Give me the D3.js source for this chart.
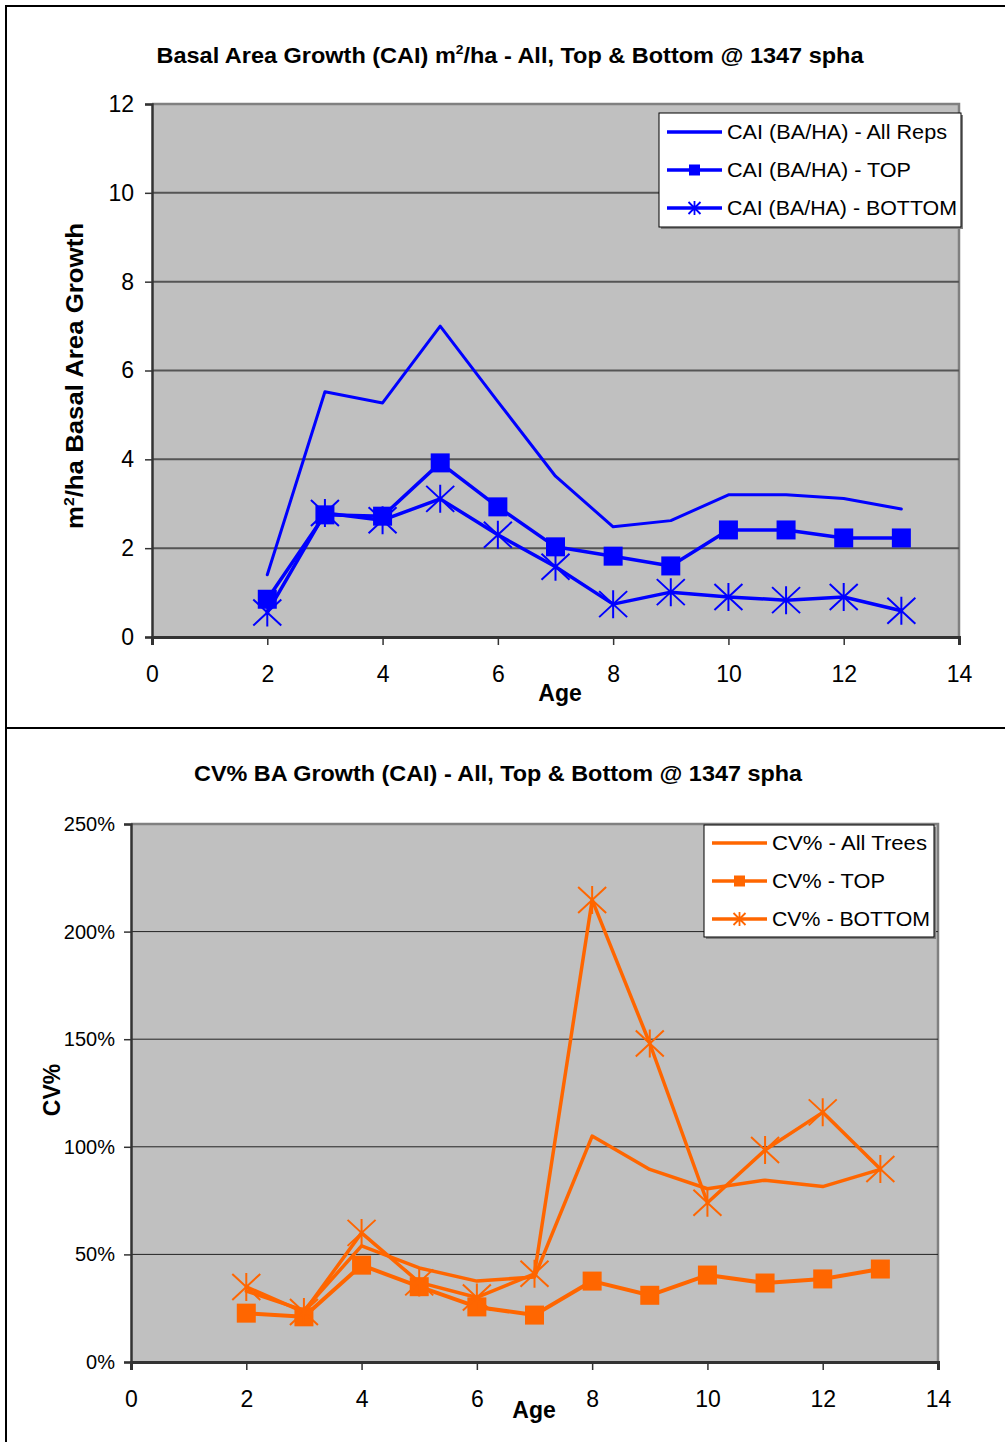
<!DOCTYPE html>
<html>
<head>
<meta charset="utf-8">
<script src="https://cdn.jsdelivr.net/npm/d3@7"></script>
<style>
  html, body { margin: 0; padding: 0; background: #fff; }
  svg { display: block; }
  text { font-family: "Liberation Sans", Arial, sans-serif; }
</style>
</head>
<body>
<svg id="root" width="1005" height="1442"></svg>
<script>
// ---------- DATA ----------
const ages = [2, 3, 4, 5, 6, 7, 8, 9, 10, 11, 12, 13];

// Chart 1: Basal Area Growth (CAI) m2/ha
const caiAllReps = [1.4, 5.52, 5.27, 7.0, 5.3, 3.62, 2.48, 2.62, 3.2, 3.2, 3.12, 2.88];
const caiTop     = [0.85, 2.75, 2.72, 3.92, 2.93, 2.03, 1.82, 1.6, 2.41, 2.41, 2.23, 2.23];
const caiBottom  = [0.55, 2.79, 2.63, 3.11, 2.3, 1.58, 0.74, 1.01, 0.9, 0.83, 0.9, 0.59];

// Chart 2: CV% (fractions)
const cvAllTrees = [0.33, 0.24, 0.54, 0.437, 0.376, 0.395, 1.05, 0.895, 0.805, 0.845, 0.815, 0.895];
const cvTop      = [0.227, 0.21, 0.45, 0.35, 0.256, 0.218, 0.376, 0.31, 0.404, 0.367, 0.386, 0.432];
const cvBottom   = [0.349, 0.232, 0.60, 0.37, 0.30, 0.41, 2.147, 1.48, 0.74, 0.985, 1.16, 0.897];

const xTicks = [0, 2, 4, 6, 8, 10, 12, 14];
const yTicks1 = [0, 2, 4, 6, 8, 10, 12];
const yTicks2 = [0, 0.5, 1.0, 1.5, 2.0, 2.5];

const legend1 = ["CAI (BA/HA) - All Reps", "CAI (BA/HA) - TOP", "CAI (BA/HA) - BOTTOM"];
const legend2 = ["CV% - All Trees", "CV% - TOP", "CV% - BOTTOM"];

// ---------- DRAW ----------
const svg = d3.select("#root");

// outer frame lines
svg.append("line").attr("x1", 6).attr("x2", 1005).attr("y1", 6).attr("y2", 6).attr("stroke", "#000").attr("stroke-width", 2);
svg.append("line").attr("x1", 6).attr("x2", 6).attr("y1", 5).attr("y2", 1442).attr("stroke", "#000").attr("stroke-width", 2);
svg.append("line").attr("x1", 5).attr("x2", 1005).attr("y1", 728).attr("y2", 728).attr("stroke", "#000").attr("stroke-width", 2);

function starPath(rx, ry) {
  return `M${-rx},${-ry}L${rx},${ry}M${-rx},${ry}L${rx},${-ry}M0,${-ry - 1}L0,${ry + 1}`;
}

function drawChart(cfg) {
  const g = svg.append("g");
  const x = d3.scaleLinear().domain([0, 14]).range([cfg.left, cfg.right]);
  const y = d3.scaleLinear().domain([0, cfg.yMax]).range([cfg.bottom, cfg.top]);

  // plot background
  g.append("rect").attr("x", cfg.left).attr("y", cfg.top)
    .attr("width", cfg.right - cfg.left).attr("height", cfg.bottom - cfg.top)
    .attr("fill", "#C0C0C0");
  // gray top & right border
  g.append("path")
    .attr("d", `M${cfg.left},${cfg.top}L${cfg.right},${cfg.top}L${cfg.right},${cfg.bottom}`)
    .attr("fill", "none").attr("stroke", "#808080").attr("stroke-width", 2.5);

  // gridlines
  g.append("g").selectAll("line").data(cfg.yTicks.filter(d => d > 0 && d < cfg.yMax)).join("line")
    .attr("x1", cfg.left).attr("x2", cfg.right)
    .attr("y1", d => y(d)).attr("y2", d => y(d))
    .attr("stroke", cfg.gridColor).attr("stroke-width", cfg.gridWidth);

  // axes
  const yAxis = d3.axisLeft(y).tickValues(cfg.yTicks).tickSize(7).tickPadding(cfg.yPad).tickFormat(cfg.yFormat);
  const ya = g.append("g").attr("transform", `translate(${cfg.left},0)`).call(yAxis);
  ya.select(".domain").attr("stroke", "#333").attr("stroke-width", 2.5);
  ya.selectAll(".tick line").attr("stroke", "#333").attr("stroke-width", 1.5);
  ya.selectAll(".tick text").attr("font-size", cfg.yFont).attr("fill", "#000")
    .attr("font-family", "Liberation Sans, Arial, sans-serif");

  const xAxis = d3.axisBottom(x).tickValues(xTicks).tickSize(8).tickPadding(cfg.xPad).tickFormat(d3.format("d"));
  const xa = g.append("g").attr("transform", `translate(0,${cfg.bottom})`).call(xAxis);
  xa.select(".domain").attr("stroke", "#333").attr("stroke-width", 3);
  xa.selectAll(".tick line").attr("stroke", "#333").attr("stroke-width", 1.5);
  xa.selectAll(".tick text").attr("font-size", 23).attr("fill", "#000")
    .attr("font-family", "Liberation Sans, Arial, sans-serif");

  // title
  g.append("text").attr("x", cfg.titleX).attr("y", cfg.titleY).attr("text-anchor", "middle")
    .attr("font-size", 22).attr("font-weight", "bold")
    .attr("textLength", cfg.titleLen).attr("lengthAdjust", "spacingAndGlyphs")
    .call(cfg.titleFn);

  // axis titles
  g.append("text").attr("x", cfg.ageX).attr("y", cfg.ageY).attr("text-anchor", "middle")
    .attr("font-size", 23).attr("font-weight", "bold").text("Age");
  const yt = g.append("text").attr("transform", `translate(${cfg.yTitleX},${cfg.yTitleY}) rotate(-90)`)
    .attr("text-anchor", "middle").attr("font-size", 23).attr("font-weight", "bold")
    .call(cfg.yTitleFn);
  if (cfg.yTitleLen) yt.attr("textLength", cfg.yTitleLen).attr("lengthAdjust", "spacingAndGlyphs");

  // series
  const line = d3.line().x((d, i) => x(ages[i])).y(d => y(d));
  const series = cfg.series;
  series.forEach((s, k) => {
    const data = s.values;
    g.append("path").datum(data).attr("d", line)
      .attr("fill", "none").attr("stroke", cfg.color).attr("stroke-width", s.width)
      .attr("stroke-linejoin", "round").attr("stroke-linecap", "round");
    if (s.marker === "square") {
      g.append("g").selectAll("rect").data(data).join("rect")
        .attr("x", (d, i) => x(ages[i]) - 9.5).attr("y", d => y(d) - 9.5)
        .attr("width", 19).attr("height", 19).attr("fill", cfg.color);
    } else if (s.marker === "star") {
      g.append("g").selectAll("path").data(data).join("path")
        .attr("transform", (d, i) => `translate(${x(ages[i])},${y(d)})`)
        .attr("d", starPath(14, 13)).attr("fill", "none")
        .attr("stroke", cfg.color).attr("stroke-width", 2);
    }
  });

  // legend
  const L = cfg.legend;
  const lg = g.append("g");
  lg.append("rect").attr("x", L.x + 2).attr("y", L.y + 2).attr("width", L.w).attr("height", L.h).attr("fill", "#808080");
  lg.append("rect").attr("x", L.x).attr("y", L.y).attr("width", L.w).attr("height", L.h)
    .attr("fill", "#fff").attr("stroke", "#000").attr("stroke-width", 1);
  cfg.legendLabels.forEach((lab, k) => {
    const cy = L.y + L.first + k * L.step;
    lg.append("line").attr("x1", L.x + 8).attr("x2", L.x + 63).attr("y1", cy).attr("y2", cy)
      .attr("stroke", cfg.color).attr("stroke-width", 3.5);
    if (series[k].marker === "square") {
      lg.append("rect").attr("x", L.x + 35.5 - 5.5).attr("y", cy - 5.5).attr("width", 11).attr("height", 11).attr("fill", cfg.color);
    } else if (series[k].marker === "star") {
      lg.append("path").attr("transform", `translate(${L.x + 35.5},${cy})`).attr("d", starPath(6, 6))
        .attr("fill", "none").attr("stroke", cfg.color).attr("stroke-width", 1.8);
    }
    lg.append("text").attr("x", L.x + 68).attr("y", cy + 7).attr("font-size", 21)
      .attr("textLength", L.textLens[k]).attr("lengthAdjust", "spacingAndGlyphs").text(lab);
  });
}

drawChart({
  left: 152, right: 959, top: 104, bottom: 637, yMax: 12,
  yTicks: yTicks1, yFormat: d3.format("d"), yFont: 23, yPad: 11, xPad: 21,
  gridColor: "#555", gridWidth: 2,
  color: "#0000FF",
  titleX: 510, titleY: 63, titleLen: 707,
  titleFn: t => { t.append("tspan").text("Basal Area Growth (CAI) m");
                  t.append("tspan").attr("font-size", 13).attr("dy", -9).text("2");
                  t.append("tspan").attr("dy", 9).text("/ha - All, Top & Bottom @ 1347 spha"); },
  ageX: 560, ageY: 701,
  yTitleX: 83, yTitleY: 376, yTitleLen: 306,
  yTitleFn: t => { t.append("tspan").text("m");
                   t.append("tspan").attr("font-size", 14).attr("dy", -9).text("2");
                   t.append("tspan").attr("dy", 9).text("/ha Basal Area Growth"); },
  series: [
    { values: caiAllReps, marker: "none", width: 3 },
    { values: caiTop, marker: "square", width: 3.5 },
    { values: caiBottom, marker: "star", width: 3.5 }
  ],
  legendLabels: legend1,
  legend: { x: 659, y: 113, w: 302, h: 114, first: 19, step: 38, textLens: [220, 184, 230] }
});

drawChart({
  left: 131, right: 938, top: 824, bottom: 1362, yMax: 2.5,
  yTicks: yTicks2, yFormat: d3.format(".0%"), yFont: 20, yPad: 9, xPad: 21,
  gridColor: "#222", gridWidth: 1,
  color: "#FF6600",
  titleX: 498, titleY: 781, titleLen: 608,
  titleFn: t => { t.text("CV% BA Growth (CAI)  - All, Top & Bottom @ 1347 spha"); },
  ageX: 534, ageY: 1418,
  yTitleX: 60, yTitleY: 1090,
  yTitleFn: t => { t.text("CV%"); },
  series: [
    { values: cvAllTrees, marker: "none", width: 3.5 },
    { values: cvTop, marker: "square", width: 4 },
    { values: cvBottom, marker: "star", width: 3.5 }
  ],
  legendLabels: legend2,
  legend: { x: 704, y: 825, w: 230, h: 112, first: 18, step: 38, textLens: [155, 113, 158] }
});
</script>
</body>
</html>
